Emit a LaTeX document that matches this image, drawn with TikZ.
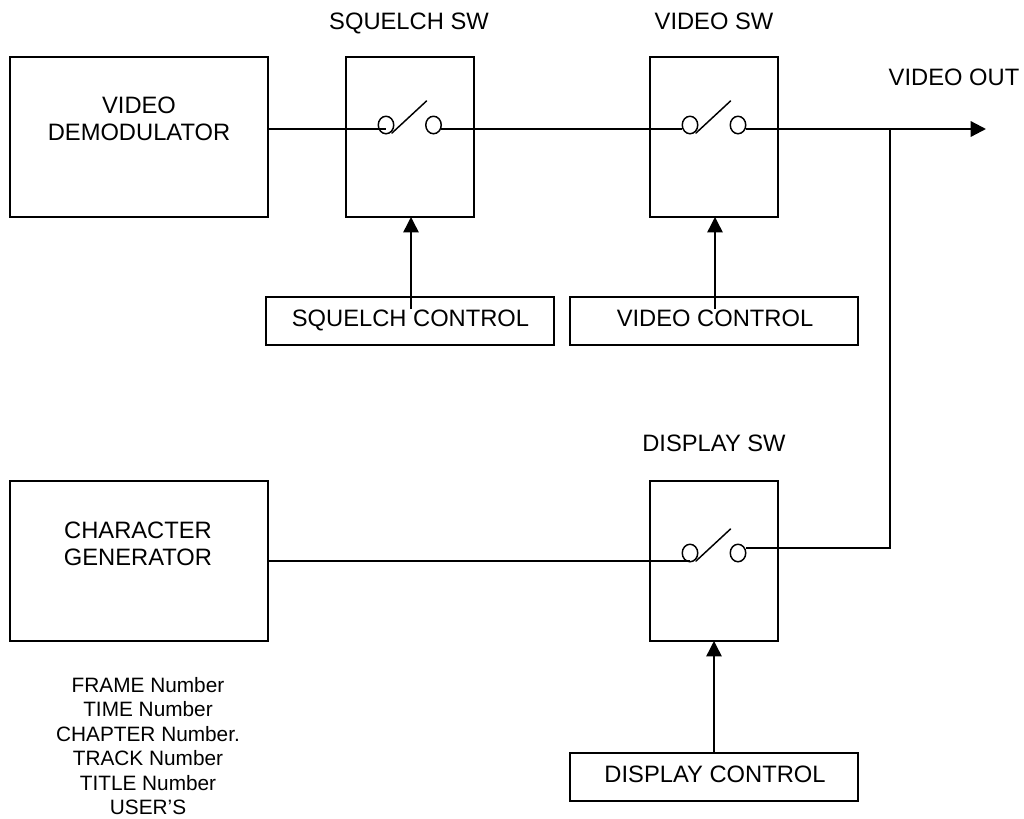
\documentclass[tikz,border=0pt]{standalone}
\usepackage{fontspec}
\setmainfont{Liberation Sans}
\usetikzlibrary{arrows.meta,shapes.geometric}
\tikzset{
  wire/.style={draw=black,line width=1.1pt},
  thick wire/.style={draw=black,line width=1.7pt},
  boxn/.style={draw=black,line width=1.2pt,anchor=north west,inner sep=0pt,outer sep=0pt},
  lbl/.style={inner sep=0pt,align=center,font=\fontsize{17.8}{20.6}\selectfont},
  small/.style={inner sep=0pt,align=center,font=\fontsize{15.6}{18.4}\selectfont},
  term/.style={draw=black,line width=1.1pt,ellipse,inner sep=0pt,outer sep=0pt,minimum width=15.5*0.75pt,minimum height=17.5*0.75pt},
  tip/.style={-{Triangle[length=11.5pt,width=11.5pt]}},
}
\begin{document}
\begin{tikzpicture}[x=0.75pt,y=-0.75pt]
\useasboundingbox (0,0) rectangle (1024,818);
\def\bx#1#2#3#4#5{\node[boxn,minimum width=#4*0.75pt,minimum height=#5*0.75pt] (#1) at (#2,#3) {};}
\bx{demod}{10}{57}{258}{160}
\bx{sqsw}{346}{57}{128}{160}
\bx{vidsw}{650}{57}{128}{160}
\bx{sqctl}{266}{297}{288}{48}
\bx{vidctl}{570}{297}{288}{48}
\bx{chargen}{10}{481}{258}{160}
\bx{dispsw}{650}{481}{128}{160}
\bx{dispctl}{570}{753}{288}{48}
\node[lbl] (tdemod) at (139,119) {VIDEO\\DEMODULATOR};
\node[lbl] (tchar) at (138,544) {CHARACTER\\GENERATOR};
\node[lbl,anchor=base] (tsq) at (409,29) {SQUELCH SW};
\node[lbl,anchor=base] (tvid) at (714,29) {VIDEO SW};
\node[lbl,anchor=base] (tout) at (954,85) {VIDEO OUT};
\node[lbl,anchor=base] (tdisp) at (714,451) {DISPLAY SW};
\node[lbl,anchor=base] (tsqc) at (410.5,326) {SQUELCH CONTROL};
\node[lbl,anchor=base] (tvidc) at (715,326) {VIDEO CONTROL};
\node[lbl,anchor=base] (tdispc) at (715,782) {DISPLAY CONTROL};
\node[small] (tlist) at (148,746) {FRAME Number\\TIME Number\\CHAPTER Number.\\TRACK Number\\TITLE Number\\USER’S};
% switches
\node[term] (a1) at (386,125) {};
\node[term] (b1) at (433.5,125) {};
\node[term] (a2) at (690,125) {};
\node[term] (b2) at (738,125) {};
\node[term] (a3) at (690,553) {};
\node[term] (b3) at (738,553) {};
\coordinate (j1) at (890,129);
\coordinate (out) at (986,129);
\coordinate (c1) at (890,548);
\draw[wire,line cap=round] (392,133) -- (426.5,101);
\draw[wire,line cap=round] (696,133) -- (730.5,101);
\draw[wire,line cap=round] (696,561) -- (730.5,529);
\draw[wire] (demod.east |- j1) -- (a1.center |- j1);
\draw[wire] (b1.east |- j1) -- (a2.west |- j1);
\draw[wire] (chargen.east |- 0,561) -- (a3.center |- 0,561);
\draw[thick wire,tip] (b2.east |- j1) -- (out);
\draw[wire] (j1) -- (c1) -- (b3.east |- c1);
\coordinate (s1) at (411,309);
\coordinate (s2) at (715,309);
\draw[wire,tip] (s1) -- (sqsw.south -| s1);
\draw[wire,tip] (s2) -- (vidsw.south -| s2);
\draw[wire,tip] (dispctl.north -| 714,0) -- (dispsw.south -| 714,0);
\end{tikzpicture}
\end{document}
